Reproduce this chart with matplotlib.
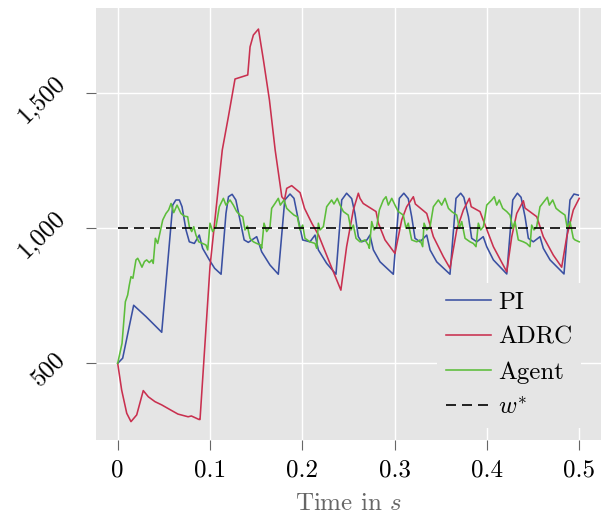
import matplotlib
matplotlib.use("Agg")
import matplotlib.pyplot as plt
from matplotlib.ticker import FuncFormatter
from matplotlib.transforms import ScaledTranslation

plt.rcParams['font.family'] = 'serif'
plt.rcParams['font.serif'] = ['cmr10', 'DejaVu Serif']
plt.rcParams['mathtext.fontset'] = 'cm'
plt.rcParams['axes.formatter.use_mathtext'] = True

# ---- data ----
t_pi = [0, 0.0054, 0.0173, 0.0307, 0.0477, 0.0596, 0.063, 0.0668, 0.0697, 0.074, 0.0776, 0.083, 0.0884,
        0.092, 0.0993, 0.105, 0.112, 0.1173, 0.12, 0.124, 0.128, 0.1325, 0.137, 0.1415, 0.1506, 0.156, 0.165,
        0.174, 0.181, 0.1867, 0.191, 0.1957, 0.2004, 0.2083, 0.2138, 0.2174, 0.2264, 0.2365, 0.2427, 0.248,
        0.2535, 0.257, 0.2607, 0.2643, 0.27, 0.2733, 0.277, 0.2842, 0.2986, 0.3051, 0.310, 0.3148, 0.3185,
        0.3221, 0.3275, 0.3348, 0.3384, 0.3456, 0.36, 0.3665, 0.3716, 0.375, 0.38, 0.3835, 0.389, 0.396,
        0.3998, 0.407, 0.4215, 0.428, 0.433, 0.437, 0.4413, 0.4449, 0.4503, 0.4575, 0.4611, 0.4684, 0.4835,
        0.49, 0.4943, 0.499]
v_pi = [500, 519, 715, 673, 615, 1086, 1105, 1105, 1080, 994, 950, 944, 975,
        926, 883, 852, 830, 1055, 1117, 1126, 1105, 1031, 957, 948, 969, 913, 864,
        830, 1105, 1127, 1111, 1031, 957, 950, 975, 920, 870, 830, 1105, 1130,
        1110, 1055, 969, 950, 957, 975, 920, 876, 830, 1111, 1130, 1110, 1043,
        963, 950, 975, 920, 876, 830, 1111, 1130, 1115, 1043, 963, 950, 969,
        932, 883, 831, 1105, 1130, 1115, 1043, 963, 950, 969, 926, 883, 831,
        1105, 1127, 1123]

t_adrc = [0, 0.0043, 0.0098, 0.0144, 0.0206, 0.0277, 0.0332, 0.0404, 0.0477, 0.0585, 0.0653, 0.0763,
          0.0798, 0.0881, 0.0892, 0.1, 0.1133, 0.1199, 0.1271, 0.1409, 0.1434, 0.147, 0.1525, 0.1579,
          0.1644, 0.1706, 0.1778, 0.1807, 0.1831, 0.1885, 0.1976, 0.2024, 0.2103, 0.2176, 0.2284, 0.2418,
          0.248, 0.2553, 0.2607, 0.2625, 0.266, 0.2799, 0.2824, 0.2896, 0.3004, 0.3077, 0.3131, 0.3203,
          0.3225, 0.3348, 0.342, 0.3528, 0.36, 0.3673, 0.3745, 0.381, 0.383, 0.3925, 0.407, 0.4215,
          0.4269, 0.4323, 0.4395, 0.4413, 0.454, 0.4611, 0.4719, 0.481, 0.4865, 0.4936, 0.5]
v_adrc = [500, 401, 315, 284, 309, 399, 376, 358, 346, 325, 312, 302,
          305, 292, 292, 858, 1290, 1413, 1553, 1568, 1672, 1716, 1738, 1623,
          1475, 1290, 1117, 1105, 1148, 1158, 1132, 1074, 1019, 975, 883, 771,
          932, 1068, 1130, 1111, 1092, 1062, 1019, 957, 907, 1031, 1080, 1117,
          1090, 1055, 969, 895, 852, 994, 1068, 1111, 1080, 1062, 932, 839,
          969, 1055, 1102, 1075, 1043, 969, 901, 856, 969, 1068, 1111]

t_agent = [0, 0.0047, 0.0083, 0.0108, 0.0126, 0.0144, 0.0165, 0.0198, 0.0217, 0.0235, 0.0263, 0.029,
           0.0314, 0.0343, 0.037, 0.0385, 0.0408, 0.0433, 0.0488, 0.0523, 0.0552, 0.0578, 0.0607, 0.0643,
           0.0686, 0.0722, 0.0758, 0.0776, 0.0802, 0.0824, 0.0848, 0.0878, 0.092, 0.0957, 0.0975, 0.1,
           0.1029, 0.1065, 0.1101, 0.1145, 0.1173, 0.1217, 0.1253, 0.1289, 0.1325, 0.1355, 0.1379, 0.1405,
           0.1433, 0.147, 0.1506, 0.155, 0.156, 0.1585, 0.1614, 0.165, 0.1668, 0.1704, 0.174, 0.1762,
           0.1802, 0.1831, 0.1867, 0.191, 0.1946, 0.1975, 0.2004, 0.2029, 0.2083, 0.2138, 0.2156, 0.2174,
           0.2192, 0.2228, 0.2264, 0.2318, 0.2343, 0.2379, 0.2409, 0.2445, 0.2498, 0.2528, 0.2553, 0.2582,
           0.2625, 0.2679, 0.2715, 0.2726, 0.2752, 0.2777, 0.2806, 0.2835, 0.2878, 0.2907, 0.2932, 0.2969,
           0.3004, 0.304, 0.3094, 0.3124, 0.3148, 0.3185, 0.324, 0.3275, 0.3304, 0.3319, 0.3348, 0.3384,
           0.342, 0.3474, 0.351, 0.3546, 0.3583, 0.3619, 0.3673, 0.3701, 0.3727, 0.3763, 0.3817, 0.3853,
           0.3882, 0.3907, 0.3933, 0.3962, 0.3998, 0.4052, 0.408, 0.4106, 0.4134, 0.4171, 0.4215, 0.425,
           0.428, 0.4304, 0.434, 0.4395, 0.443, 0.4467, 0.4485, 0.451, 0.4539, 0.4575, 0.4619, 0.4655,
           0.4676, 0.4713, 0.4749, 0.4792, 0.4846, 0.4871, 0.49, 0.4936, 0.4954, 0.5]
v_agent = [500, 574, 728, 753, 790, 821, 815, 883, 889, 877, 856, 877,
           883, 873, 883, 870, 963, 944, 1031, 1055, 1068, 1092, 1058, 1086,
           1055, 1045, 1043, 1006, 988, 1006, 975, 950, 944, 938, 920, 1019,
           988, 1006, 1080, 1111, 1086, 1105, 1086, 1062, 1049, 1043, 994, 1008,
           963, 950, 944, 938, 926, 1019, 988, 1006, 1074, 1092, 1111, 1086,
           1105, 1074, 1062, 1049, 1043, 994, 1012, 963, 950, 944, 926, 1019,
           994, 1006, 1080, 1105, 1090, 1111, 1086, 1062, 1049, 994, 1012, 963,
           950, 957, 938, 926, 1025, 994, 1006, 1068, 1105, 1117, 1086, 1111,
           1086, 1062, 1049, 1000, 1019, 957, 950, 957, 932, 1019, 994, 1006,
           1080, 1105, 1086, 1111, 1074, 1062, 1049, 1000, 1025, 963, 950, 944,
           932, 1019, 994, 1006, 1086, 1105, 1117, 1086, 1105, 1074, 1062, 1049,
           1000, 1025, 957, 950, 944, 932, 1012, 994, 1006, 1080, 1099, 1115,
           1086, 1105, 1074, 1062, 1049, 1000, 1025, 963, 957, 950]

t_ref = [0, 0.5]
v_ref = [1000, 1000]

labels = ["PI", "ADRC", "Agent", r"$w^{*}$"]
x_ticks = [0, 0.1, 0.2, 0.3, 0.4, 0.5]
y_ticks = [500, 1000, 1500]

# ---- plot ----
fig = plt.figure(figsize=(6.08, 5.21), dpi=100)
ax = fig.add_axes([96/608, 1-440/521, (601-96)/608, (440-8)/521])
ax.set_facecolor('#E5E5E5')
for s in ax.spines.values():
    s.set_visible(False)
ax.grid(True, color='white', linewidth=1.0)
ax.set_axisbelow(True)

lw = 1.15
ax.plot(t_pi, v_pi, color='#3A50A2', lw=lw, label=labels[0])
ax.plot(t_adrc, v_adrc, color='#C9304F', lw=lw, label=labels[1])
ax.plot(t_agent, v_agent, color='#5CBD3A', lw=lw, label=labels[2])
ax.plot(t_ref, v_ref, color='black', lw=1.2, linestyle=(0, (6, 3.6)), label=labels[3])

ax.set_xlim(-0.0235, 0.5236)
ax.set_ylim(216, 1816)
ax.set_xticks(x_ticks)
ax.set_yticks(y_ticks)
ax.xaxis.set_major_formatter(FuncFormatter(lambda v, p: '0' if v == 0 else f'{v:g}'))
ax.yaxis.set_major_formatter(FuncFormatter(lambda v, p: f'{int(v):,}'))
ax.tick_params(axis='both', colors='#666666', labelcolor='black', length=7, width=0.8, labelsize=18)
ax.tick_params(axis='x', pad=7)
ax.tick_params(axis='y', pad=12)
offset = ScaledTranslation(0, -4.5/72, fig.dpi_scale_trans)
for tick in ax.yaxis.get_major_ticks():
    lab = tick.label1
    lab.set_rotation(45)
    lab.set_verticalalignment('center')
    lab.set_transform(lab.get_transform() + offset)

ax.set_xlabel(r'Time in $s$', fontsize=18, color='#666666', labelpad=8)

leg = ax.legend(loc='lower right', bbox_to_anchor=(0.985, 0.0), fontsize=18, frameon=True,
                facecolor='#E5E5E5', edgecolor='none', framealpha=1.0, fancybox=False,
                handlelength=1.8, handletextpad=0.3, labelspacing=0.5, borderpad=0.35)

fig.savefig('out.png', dpi=100)
